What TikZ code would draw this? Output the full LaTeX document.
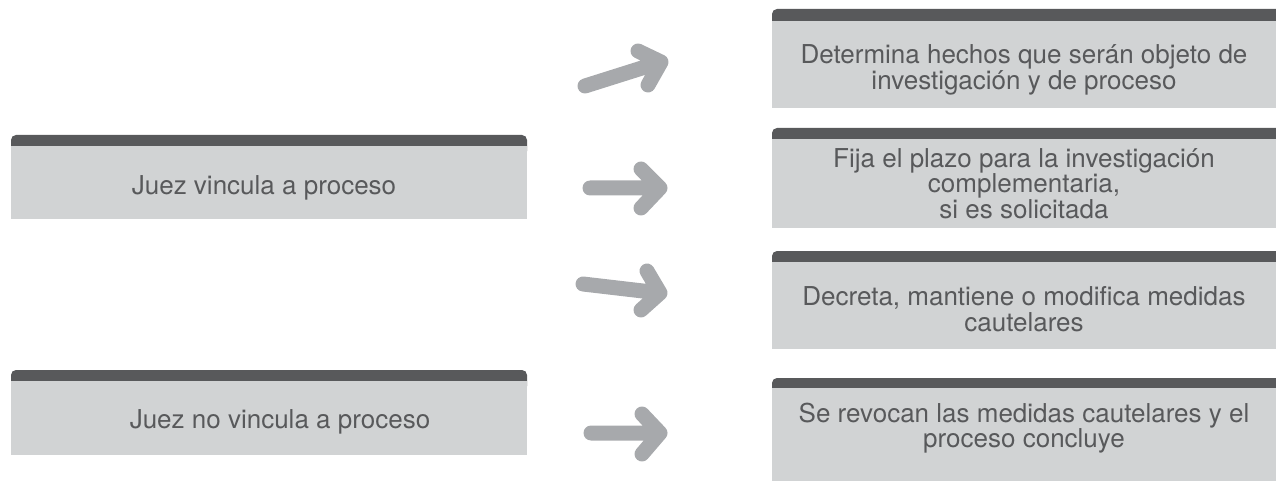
\documentclass[tikz,border=0pt]{standalone}
\usepackage{fontspec}
\setmainfont{TeX Gyre Heros}
\definecolor{bargray}{HTML}{58595B}
\definecolor{boxgray}{HTML}{D1D3D4}
\definecolor{arrgray}{HTML}{A7A9AC}
\definecolor{txtgray}{HTML}{58595B}
\tikzset{
  body/.style={fill=boxgray, inner sep=0pt},
  lbody/.style={body, minimum width=516pt},
  rbody/.style={body, minimum width=504pt},
  label/.style={inner sep=0pt, align=center, text=txtgray,
    font=\fontsize{26}{25.5}\selectfont},
  topbar/.style={fill=bargray, rounded corners=5pt},
  bigarrow/.style={draw=arrgray, line width=15pt, line cap=round, line join=round}
}
\begin{document}
\begin{tikzpicture}[x=1pt,y=-1pt]
\useasboundingbox (0,0) rectangle (1276,481);
% left boxes
\fill[topbar] (11,156) -- (11,135) -- (527,135) -- (527,156) -- cycle;
\node[lbody, minimum height=73pt] (l1) at (269,182.5) {};
\node[label] (t1) at (264,188) {Juez vincula a proceso};
\fill[topbar] (11,391) -- (11,370) -- (527,370) -- (527,391) -- cycle;
\node[lbody, minimum height=74pt] (l2) at (269,418) {};
\node[label] (t2) at (280,422) {Juez no vincula a proceso};
% right boxes
\fill[topbar] (772,31) -- (772,9) -- (1286,9) -- (1286,31) -- cycle;
\node[rbody, minimum height=87pt] (r1) at (1024,64.5) {};
\node[label, font=\fontsize{26}{26.5}\selectfont] (s1) at (1024,70) {Determina hechos que serán objeto de\\investigación y de proceso};
\fill[topbar] (772,149) -- (772,128) -- (1286,128) -- (1286,149) -- cycle;
\node[rbody, minimum height=89pt] (r2) at (1024,183.5) {};
\node[label] (s2) at (1024,183.5) {Fija el plazo para la investigación\\complementaria,\\si es solicitada};
\fill[topbar] (772,272) -- (772,251) -- (1286,251) -- (1286,272) -- cycle;
\node[rbody, minimum height=87pt] (r3) at (1024,305.5) {};
\node[label] (s3) at (1024,309) {Decreta, mantiene o modifica medidas\\cautelares};
\fill[topbar] (772,398) -- (772,378) -- (1286,378) -- (1286,398) -- cycle;
\node[rbody, minimum height=94pt] (r4) at (1024,435) {};
\node[label] (s4) at (1024,428) {Se revocan las medidas cautelares y el\\proceso concluye};
% arrows
\coordinate (a1s) at (585,86); \coordinate (a1t) at (661,62);
\coordinate (a1u) at (638,51); \coordinate (a1d) at (648,85);
\draw[bigarrow] (a1s) -- (a1t) (a1u) -- (a1t) -- (a1d);
\coordinate (a2s) at (590,188); \coordinate (a2t) at (660,188);
\coordinate (a2u) at (641,169); \coordinate (a2d) at (641,208);
\draw[bigarrow] (a2s) -- (a2t) (a2u) -- (a2t) -- (a2d);
\coordinate (a3s) at (583,284); \coordinate (a3t) at (660,293);
\coordinate (a3u) at (647,271); \coordinate (a3d) at (641,310);
\draw[bigarrow] (a3s) -- (a3t) (a3u) -- (a3t) -- (a3d);
\coordinate (a4s) at (591,433); \coordinate (a4t) at (660,433);
\coordinate (a4u) at (642,414); \coordinate (a4d) at (642,454);
\draw[bigarrow] (a4s) -- (a4t) (a4u) -- (a4t) -- (a4d);
\end{tikzpicture}
\end{document}
